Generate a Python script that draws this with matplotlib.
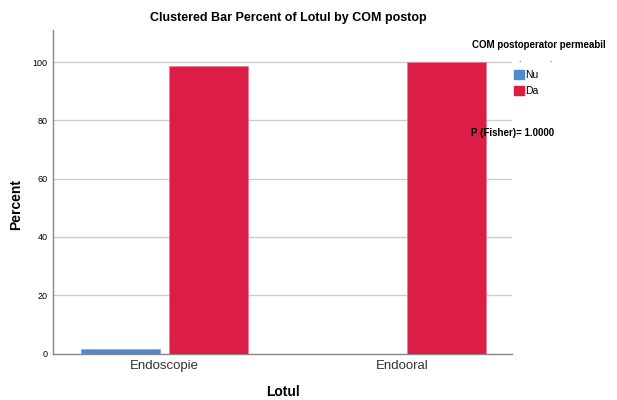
import matplotlib.pyplot as plt
import numpy as np
from matplotlib.patches import Patch

plt.rcParams['font.family'] = ['Liberation Sans', 'DejaVu Sans']

# data
categories = ['Endoscopie', 'Endooral']
groups = ['Nu', 'Da']
nu_pct = [1.5, 0.0]
da_pct = [98.5, 100.0]
yticks = [0, 20, 40, 60, 80, 100]

blue = '#4F8BCC'
red = '#DC1E46'

fig = plt.figure(figsize=(6.17, 4.0), dpi=100)
ax = fig.add_axes([53 / 617, 1 - 353.5 / 400, (512 - 53) / 617, (353.5 - 30) / 400])

x = np.arange(len(categories))
w = 0.332
off = 0.185
ax.bar(x - off, nu_pct, width=w, color=blue, edgecolor='#7fb0e0', linewidth=0.6, zorder=3)
ax.bar(x + off, da_pct, width=w, color=red, edgecolor='#ee7a90', linewidth=0.6, zorder=3)

ax.set_xlim(-0.467, 1.462)
ax.set_ylim(0, 111)
ax.set_yticks(yticks)
ax.set_yticklabels([str(v) for v in yticks], fontsize=6.5)
ax.set_xticks(x)
ax.set_xticklabels(categories, fontsize=9.5, color='#333333')
ax.tick_params(axis='both', length=0, pad=4)
ax.tick_params(axis='x', pad=5)

ax.grid(axis='y', color='#cccccc', linewidth=1, zorder=0)
for s in ['top', 'right']:
    ax.spines[s].set_visible(False)
for s in ['left', 'bottom']:
    ax.spines[s].set_color('#888888')
    ax.spines[s].set_linewidth(1)

fig.text(288 / 617, 1 - 18 / 400, 'Clustered Bar Percent of Lotul by COM postop',
         ha='center', va='center', fontsize=9, fontweight='bold')
fig.text(16 / 617, 1 - 205 / 400, 'Percent', rotation=90, ha='center', va='center',
         fontsize=10, fontweight='bold')
fig.text(283 / 617, 1 - 392 / 400, 'Lotul', ha='center', va='center',
         fontsize=10, fontweight='bold')

fig.text(472 / 617, 1 - 45 / 400, 'COM postoperator permeabil', ha='left', va='center',
         fontsize=7, fontweight='bold')
fig.text(519 / 617, 1 - 60 / 400, '.            .', ha='left', va='center', fontsize=6)

handles = [Patch(facecolor=blue, edgecolor=blue), Patch(facecolor=red, edgecolor=red)]
fig.legend(handles, groups, loc='upper left', bbox_to_anchor=(510 / 617, 1 - 66 / 400),
           frameon=False, fontsize=7.5, handlelength=0.9, handleheight=0.9,
           handletextpad=0.2, labelspacing=0.55, borderaxespad=0)

fig.text(471 / 617, 1 - 133 / 400, 'P (Fisher)= 1.0000', ha='left', va='center',
         fontsize=7, fontweight='bold')

fig.savefig('out.png', dpi=100)
